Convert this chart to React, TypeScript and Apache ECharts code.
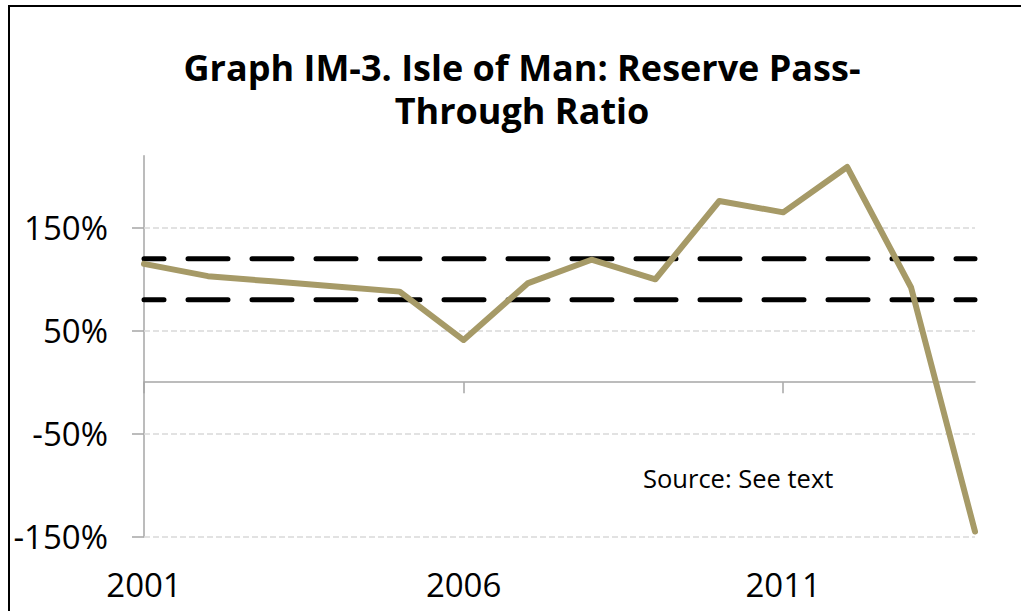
import React, { useEffect, useRef } from "react";
import * as echarts from "echarts";

const years = ["2001","2002","2003","2004","2005","2006","2007","2008","2009","2010","2011","2012","2013","2014"];
const passThrough = [115, 103, 98, 93, 88, 41, 96, 119, 100, 176, 165, 209, 92, -145];
const upperBand = years.map(() => 120);
const lowerBand = years.map(() => 80);
const yTicks = [-150, -50, 50, 150];
const titleLines = ["Graph IM-3. Isle of Man: Reserve Pass-", "Through Ratio"];
const sourceText = "Source: See text";

const FONT = "Open Sans";

export default function App() {
  const ref = useRef<HTMLDivElement>(null);
  useEffect(() => {
    document.body.style.margin = "0";
    const chart = echarts.init(ref.current!, null, { renderer: "svg" });
    const dashed = {
      type: "line",
      symbol: "none",
      silent: true,
      lineStyle: { color: "#000", width: 5, type: [40, 24], dashOffset: 20, cap: "round" },
      z: 3,
    };
    chart.setOption({
      animation: false,
      backgroundColor: "#fff",
      title: titleLines.map((t, i) => ({
        text: t,
        left: 522,
        top: 47 + i * 43,
        padding: 0,
        textAlign: "center",
        textStyle: { fontFamily: FONT, fontWeight: "bold", fontSize: 36, lineHeight: 40, color: "#000" },
      })),
      grid: { left: 144, right: 46, top: 155.7, bottom: 611 - 536.7, outerBoundsMode: "none", containLabel: false },
      xAxis: [
        {
          type: "category",
          data: years,
          boundaryGap: false,
          axisLine: { onZero: true, lineStyle: { color: "#A6A6A6", width: 1.5 } },
          axisTick: { show: true, interval: 4, length: 11, lineStyle: { color: "#A6A6A6", width: 1.5 } },
          axisLabel: { show: false },
          splitLine: { show: false },
        },
        {
          type: "category",
          data: years,
          position: "bottom",
          boundaryGap: false,
          axisLine: { show: false, onZero: false },
          axisTick: { show: false },
          axisLabel: { interval: 4, margin: 31, fontFamily: FONT, fontSize: 33, color: "#000" },
          splitLine: { show: false },
        },
      ],
      yAxis: {
        type: "value",
        min: -150,
        max: 220,
        interval: 100,
        axisLine: { show: true, onZero: false, lineStyle: { color: "#A6A6A6", width: 1.5 } },
        axisTick: { show: true, length: 12, customValues: yTicks, lineStyle: { color: "#A6A6A6", width: 1.5 } },
        axisLabel: {
          customValues: yTicks,
          margin: 36,
          fontFamily: FONT,
          fontSize: 33,
          color: "#000",
          formatter: (v: number) => `${v}%`,
        },
        splitLine: { show: false },
      },
      graphic: [
        {
          type: "rect",
          shape: { x: 9, y: 6, width: 1200, height: 800 },
          style: { fill: "none", stroke: "#000", lineWidth: 2 },
          silent: true,
          z: 100,
        },
        {
          type: "text",
          x: 643,
          y: 478,
          style: { text: sourceText, fontFamily: FONT, fontSize: 25.5, fill: "#000", verticalAlign: "middle" },
        },
      ],
      series: [
        {
          type: "line",
          data: passThrough,
          symbol: "none",
          lineStyle: { color: "#A69A67", width: 6, join: "round", cap: "round" },
          z: 4,
          markLine: {
            silent: true,
            symbol: "none",
            label: { show: false },
            lineStyle: { color: "#D9D9D9", width: 1.5, type: [6, 3] },
            data: yTicks.map((v) => ({ yAxis: v })),
            z: 1,
          },
        },
        { ...dashed, data: upperBand },
        { ...dashed, data: lowerBand },
      ],
    });
    return () => chart.dispose();
  }, []);
  return <div ref={ref} style={{ width: 1021, height: 611 }} />;
}
